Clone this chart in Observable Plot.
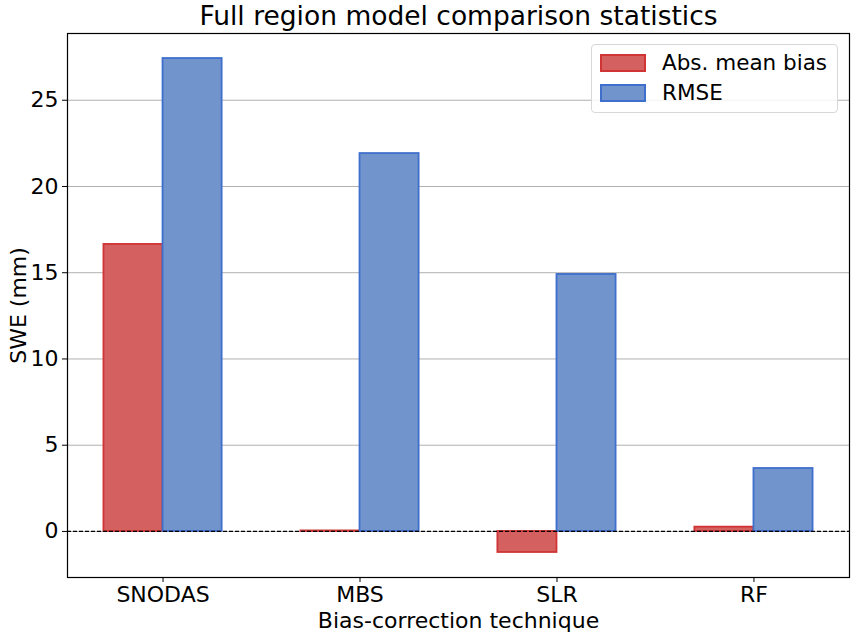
<!DOCTYPE html>
<html>
<head>
<meta charset="utf-8">
<script src="https://cdn.jsdelivr.net/npm/d3@7"></script>
<script src="https://cdn.jsdelivr.net/npm/@observablehq/plot@0.6"></script>
<style>
  body { margin: 0; background: #fff; font-family: "DejaVu Sans", sans-serif; }
  #wrap { position: relative; width: 857px; height: 635px; }
  .legend {
    position: absolute; left: 591px; top: 44px; width: 245px; height: 67px;
    border: 1px solid #d8d8d8; border-radius: 4px; background: rgba(255,255,255,0.85);
    font-size: 21.5px; color: #000;
  }
  .legend .row { position: absolute; left: 8px; display: flex; align-items: center; }
  .legend .sw { width: 42px; height: 14px; margin-right: 16px; border-width: 2px; border-style: solid; }
</style>
</head>
<body>
<div id="wrap">
  <div id="chart"></div>
  <div class="legend">
    <div class="row" style="top:5px"><span class="sw" style="background:#d46060;border-color:#d03434"></span>Abs. mean bias</div>
    <div class="row" style="top:35px"><span class="sw" style="background:#7294cc;border-color:#3f6fcc"></span>RMSE</div>
  </div>
</div>
<script>
// values
const techniques = ["SNODAS", "MBS", "SLR", "RF"];
const meanBias = [16.64, 0.03, -1.22, 0.25];
const rmse = [27.42, 21.91, 14.9, 3.65];
const yTicks = [0, 5, 10, 15, 20, 25];

const rows = techniques.map((t, i) => ({i, technique: t, bias: meanBias[i], rmse: rmse[i]}));
const barW = 0.3;

const chart = Plot.plot({
  width: 857,
  height: 635,
  marginLeft: 67,
  marginRight: 8,
  marginTop: 33,
  marginBottom: 58,
  style: {fontFamily: "DejaVu Sans", fontSize: "22px", color: "#000", background: "#fff"},
  x: {domain: [-0.485, 3.485], ticks: [0, 1, 2, 3], tickFormat: i => techniques[i], tickSize: 5, tickPadding: 4,
      label: "Bias-correction technique", labelAnchor: "center", labelOffset: 50, labelArrow: "none"},
  y: {domain: [-2.67, 28.87], ticks: yTicks, tickSize: 5, tickPadding: 4,
      label: "SWE (mm)", labelAnchor: "center", labelOffset: 57, labelArrow: "none"},
  marks: [
    Plot.gridY(yTicks, {stroke: "#b0b0b0", strokeOpacity: 1, strokeWidth: 1}),
    Plot.rect(rows, {x1: d => d.i - barW, x2: d => d.i, y1: 0, y2: "bias",
      fill: "#d46060", stroke: "#d03434", strokeWidth: 1.8}),
    Plot.rect(rows, {x1: d => d.i, x2: d => d.i + barW, y1: 0, y2: "rmse",
      fill: "#7294cc", stroke: "#3f6fcc", strokeWidth: 1.8}),
    Plot.ruleY([0], {stroke: "#000", strokeWidth: 1.2, strokeDasharray: "4,2"}),
    Plot.frame({stroke: "#000", strokeWidth: 1.2}),
    Plot.text(["Full region model comparison statistics"], {frameAnchor: "top", dy: -27, fontSize: 26.5, fill: "#000"})
  ]
});

document.getElementById("chart").append(chart);
</script>
</body>
</html>
